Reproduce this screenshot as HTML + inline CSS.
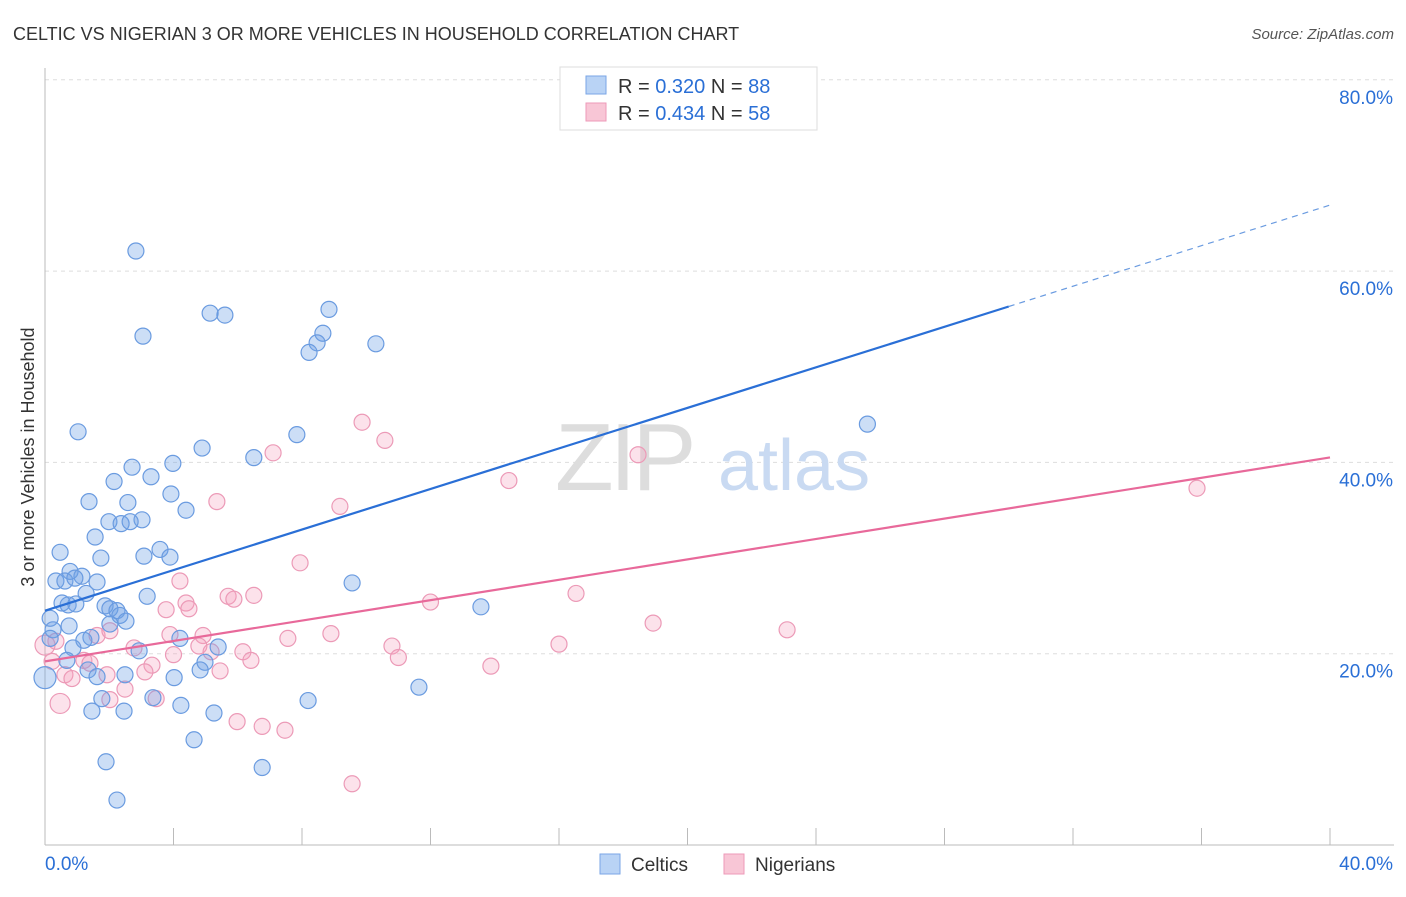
<!DOCTYPE html>
<html><head><meta charset="utf-8"><style>
body{margin:0;background:#fff;font-family:"Liberation Sans",sans-serif}
svg text{font-family:"Liberation Sans",sans-serif}
</style></head><body>
<svg id="chart" width="1406" height="892" viewBox="0 0 1406 892" xmlns="http://www.w3.org/2000/svg">
<text x="13" y="40" font-size="18" fill="#333">CELTIC VS NIGERIAN 3 OR MORE VEHICLES IN HOUSEHOLD CORRELATION CHART</text>
<text x="1394" y="39" font-size="15" fill="#555" text-anchor="end" font-style="italic">Source: ZipAtlas.com</text>
<g id="grid"></g>
<g>
<text x="555" y="490" font-size="96" fill="#ddd" font-family="Liberation Serif" letter-spacing="-4">ZIP</text>
<text x="718" y="490" font-size="72" fill="#c9daf2">atlas</text>
</g>
<line x1="45" y1="845" x2="1394" y2="845" stroke="#bbb"/>
<line x1="45" y1="68" x2="45" y2="845" stroke="#bbb"/>
<g id="ticks"></g>
<g id="pink"></g>
<g id="blue"></g>
<g id="trends"></g>
<g>
<rect x="560" y="67" width="257" height="63" fill="#fff" stroke="#ddd"/>
<rect x="586" y="76" width="20" height="18" fill="#b9d3f5" stroke="#7aa6e6"/>
<rect x="586" y="103" width="20" height="18" fill="#f8c6d6" stroke="#ee9ab8"/>
<text x="618" y="93" font-size="20" fill="#333">R = <tspan fill="#2a6fd6">0.320</tspan>   N = <tspan fill="#2a6fd6">88</tspan></text>
<text x="618" y="120" font-size="20" fill="#333">R = <tspan fill="#2a6fd6">0.434</tspan>   N = <tspan fill="#2a6fd6">58</tspan></text>
</g>
<g>
<rect x="600" y="854" width="20" height="20" fill="#b9d3f5" stroke="#7aa6e6"/>
<text x="631" y="871" font-size="19" fill="#333">Celtics</text>
<rect x="724" y="854" width="20" height="20" fill="#f8c6d6" stroke="#ee9ab8"/>
<text x="755" y="871" font-size="19" fill="#333">Nigerians</text>
</g>
<text transform="translate(34,457) rotate(-90)" font-size="18" fill="#333" text-anchor="middle">3 or more Vehicles in Household</text>
</svg>
<script>
const yTicks=[20,40,60,80];
const yTickLabels=["20.0%","40.0%","60.0%","80.0%"];
const xTickVals=[0,4,8,12,16,20,24,28,32,36,40];
const celticX=[2.83,3.05,5.14,5.6,8.84,8.65,8.47,8.22,10.3,25.6,1.03,7.84,4.89,6.5,3.98,2.71,3.3,2.15,3.92,1.37,2.58,4.39,1.99,2.37,3.02,2.65,1.56,3.58,0.47,1.74,3.08,3.89,0.78,1.15,0.34,0.62,1.62,9.56,0.93,1.28,3.18,0.53,0.72,0.96,1.87,2.02,2.24,2.33,13.57,0.16,2.52,0.75,0.25,2.02,0.16,1.43,1.21,4.2,0.87,2.93,5.39,0.68,4.98,1.34,4.83,1.62,2.49,4.02,0,11.64,1.77,3.36,8.19,4.23,1.46,2.46,5.26,4.64,1.9,6.76,2.24];
const celticY=[62.1,53.2,55.6,55.4,56.0,53.5,52.5,51.5,52.4,44.0,43.2,42.9,41.5,40.5,39.9,39.5,38.5,38.0,36.7,35.9,35.8,35.0,33.8,33.6,34.0,33.8,32.2,30.9,30.6,30.0,30.2,30.1,28.6,28.1,27.6,27.6,27.5,27.4,27.9,26.3,26.0,25.3,25.1,25.2,25.0,24.7,24.5,24.0,24.9,23.7,23.4,22.9,22.5,23.1,21.6,21.7,21.4,21.6,20.6,20.3,20.7,19.3,19.1,18.3,18.3,17.6,17.8,17.5,17.5,16.5,15.3,15.4,15.1,14.6,14.0,14.0,13.8,11.0,8.7,8.1,4.7];
const nigX=[9.87,10.58,7.1,18.46,14.44,35.86,5.35,9.18,7.94,4.2,5.7,6.5,5.88,16.53,12.0,4.39,4.48,3.77,18.93,23.1,1.62,3.89,4.92,2.02,7.56,8.9,0.34,10.8,16.0,2.77,4.79,5.17,6.16,4.0,6.41,11.0,0.22,1.21,1.4,3.33,13.88,3.11,5.45,1.93,0.62,0.84,2.49,2.02,3.46,0.47,5.98,6.76,7.47,9.56,0];
const nigY=[44.2,42.3,41.0,40.8,38.1,37.3,35.9,35.4,29.5,27.6,26.0,26.1,25.7,26.3,25.4,25.3,24.7,24.6,23.2,22.5,21.9,22.0,21.9,22.4,21.6,22.1,21.3,20.8,21.0,20.6,20.8,20.2,20.2,19.9,19.3,19.6,19.2,19.3,19.0,18.8,18.7,18.1,18.2,17.8,17.8,17.4,16.3,15.2,15.3,14.8,12.9,12.4,12.0,6.4,20.9];
const celticTrend=[24.5,1.06];
const nigTrend=[19.2,0.533];
const NS="http://www.w3.org/2000/svg";
const xs=v=>45+v/40*1285;
const ys=v=>845-v/20*191.3;
function mk(t,a,p){const e=document.createElementNS(NS,t);for(const k in a)e.setAttribute(k,a[k]);p.appendChild(e);return e;}
const grid=document.getElementById('grid'),ticks=document.getElementById('ticks');
yTicks.forEach((v,i)=>{
 const l=mk('line',{x1:45,x2:1394,y1:ys(v),y2:ys(v),stroke:'#ddd','stroke-dasharray':'4,4'},grid);
 
 
 const t=mk('text',{x:1393,y:ys(v)+24,'font-size':19,fill:'#2a6fd6','text-anchor':'end'},ticks);
 t.textContent=yTickLabels[i];
 
 
});
xTickVals.forEach(v=>{
 const l=mk('line',{x1:xs(v),x2:xs(v),y1:828,y2:845,stroke:'#bbb'},ticks);
 
 
});
const xl=mk('text',{x:45,y:870,'font-size':19,fill:'#2a6fd6'},ticks);xl.textContent="0.0%";


const xr=mk('text',{x:1393,y:870,'font-size':19,fill:'#2a6fd6','text-anchor':'end'},ticks);xr.textContent="40.0%";


const pg=document.getElementById('pink');
nigX.forEach((x,i)=>{
 const c=mk('circle',{cx:xs(x),cy:ys(nigY[i]),r:(x===0||x===0.47)?10:8,fill:'rgba(244,160,190,0.3)',stroke:'#ec9ab7','stroke-width':1.2},pg);
 
 
});
const bg=document.getElementById('blue');
celticX.forEach((x,i)=>{
 const c=mk('circle',{cx:xs(x),cy:ys(celticY[i]),r:x===0?11:8,fill:'rgba(110,160,230,0.35)',stroke:'#6a9be0','stroke-width':1.2},bg);
 
 
});
const tg=document.getElementById('trends');
const b1=mk('line',{x1:xs(0),y1:ys(celticTrend[0]),x2:xs(30),y2:ys(celticTrend[0]+30*celticTrend[1]),stroke:'#2a6fd6','stroke-width':2.2},tg);


const b2=mk('line',{x1:xs(30),y1:ys(celticTrend[0]+30*celticTrend[1]),x2:xs(40),y2:ys(celticTrend[0]+40*celticTrend[1]),stroke:'#6a9be0','stroke-width':1.2,'stroke-dasharray':'6,5'},tg);


const p1=mk('line',{x1:xs(0),y1:ys(nigTrend[0]),x2:xs(40),y2:ys(nigTrend[0]+40*nigTrend[1]),stroke:'#e8699a','stroke-width':2.2},tg);


</script>
</body></html>
